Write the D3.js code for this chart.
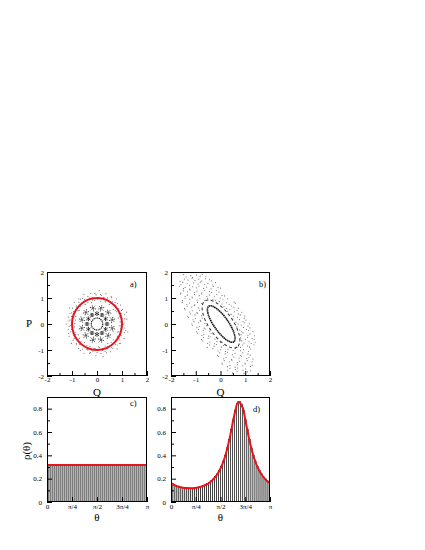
<!DOCTYPE html>
<html>
<head>
<meta charset="utf-8">
<script src="https://cdn.jsdelivr.net/npm/d3@7"></script>
<style>
  body { margin: 0; background: #fff; }
  text { font-family: "Liberation Serif", "Times New Roman", serif; }
</style>
</head>
<body>
<script>
// ---- data ----
const qpTicks = [-2, -1, 0, 1, 2];
const qpMinor = [-1.5, -0.5, 0.5, 1.5];
const piTicks = [0, 0.25, 0.5, 0.75, 1];          // theta in units of pi
const piLabels = ["0", "\u03c0/4", "\u03c0/2", "3\u03c0/4", "\u03c0"];
const rhoTicks = [0, 0.2, 0.4, 0.6, 0.8];
const rhoMinor = [0.1, 0.3, 0.5, 0.7];

// panel a: circular section
const ringA = [0.23];
const chainInDeg = [0, 30, 60, 90, 120, 150, 180, 210, 240, 270, 300, 330];
const chainOutDeg = [15, 45, 75, 105, 135, 165, 195, 225, 255, 285, 315, 345];
const chainR = [0.40, 0.63];
const fitCircleR = [1.0];
// [angle deg, r]
const seaA = [[2,1.08],[5,0.93],[9,1.21],[12,1.02],[15,0.88],[18,1.15],[21,1.27],[25,0.97],[28,1.11],[31,0.91],[34,1.05],[38,1.19],[41,0.86],[44,1.13],[47,0.99],[51,1.24],[54,1.06],[57,0.9],[60,1.17],[63,1.01],[67,1.09],[70,0.94],[73,1.22],[76,1.03],[80,0.87],[83,1.14],[86,1.28],[89,0.96],[92,1.12],[96,0.92],[99,1.04],[102,1.2],[105,0.85],[109,1.12],[112,1.0],[115,1.25],[118,1.07],[122,0.89],[125,1.16],[128,1.02],[131,1.1],[135,0.95],[138,1.23],[141,1.04],[144,0.88],[148,1.15],[151,1.26],[154,0.97],[157,1.1],[161,0.9],[164,1.06],[167,1.18],[170,0.87],[174,1.13],[177,0.99],[180,1.23],[183,1.07],[187,0.91],[190,1.17],[193,1.0],[196,1.09],[200,0.93],[203,1.21],[206,1.03],[209,0.86],[213,1.14],[216,1.27],[219,0.96],[222,1.11],[226,0.92],[229,1.05],[232,1.19],[235,0.87],[239,1.12],[242,0.98],[245,1.24],[248,1.06],[252,0.9],[255,1.16],[258,1.01],[261,1.08],[265,0.94],[268,1.22],[271,1.02],[274,0.88],[278,1.15],[281,1.28],[284,0.97],[287,1.11],[291,0.91],[294,1.04],[297,1.2],[300,0.86],[304,1.13],[307,0.99],[310,1.25],[313,1.07],[317,0.89],[320,1.17],[323,1.01],[326,1.1],[330,0.94],[333,1.22],[336,1.03],[339,0.87],[343,1.14],[346,1.27],[349,0.96],[352,1.12],[356,0.92],[359,1.05],
  [4,1.0],[10,1.13],[17,0.95],[23,1.05],[29,1.17],[36,0.9],[42,1.03],[49,1.1],[55,0.96],[62,1.2],[68,0.91],[75,1.06],[81,1.12],[88,1.0],[94,1.18],[101,0.94],[107,1.04],[114,0.9],[120,1.14],[127,1.21],[133,0.98],[140,1.08],[146,0.92],[153,1.05],[159,1.16],[166,0.95],[172,1.09],[179,0.89],[185,1.12],[192,1.03],[198,1.19],[205,0.94],[211,1.07],[218,0.9],[224,1.15],[231,1.0],[237,1.22],[244,0.92],[250,1.06],[257,1.13],[263,0.97],[270,1.1],[276,0.91],[283,1.04],[289,1.17],[296,0.95],[302,1.08],[309,0.9],[315,1.14],[322,1.2],[328,0.97],[335,1.06],[341,0.92],[348,1.16],[354,1.01]];

// panel b: tilted section
const ellCx = [0.03, 0.02];
const ellMajor = [0.85, 1.10];
const ellMinor = [0.29, 0.48];
const ellDeg = [-53.5, -53.5];
// [Q, P]
const seaB = [[-1.49,1.9],[-1.39,1.81],[-1.2,1.86],[-1.13,1.79],[-0.97,1.88],[-0.82,1.84],[-0.74,1.91],[-0.59,1.82],
  [-1.63,1.64],[-1.46,1.73],[-1.31,1.69],[-1.15,1.76],[-1.03,1.67],[-0.88,1.72],[-0.76,1.65],[-0.6,1.74],[-0.44,1.7],[-0.36,1.66],
  [-1.6,1.51],[-1.52,1.6],[-1.35,1.55],[-1.25,1.49],[-1.08,1.58],[-0.91,1.54],[-0.82,1.61],[-0.64,1.52],[-0.51,1.57],[-0.31,1.5],[-0.2,1.59],
  [-1.66,1.45],[-1.5,1.36],[-1.43,1.41],[-1.24,1.34],[-1.12,1.43],[-0.96,1.39],[-0.87,1.46],[-0.68,1.37],[-0.56,1.42],[-0.38,1.35],[-0.29,1.44],[-0.1,1.4],[0.0,1.38],
  [-1.6,1.19],[-1.5,1.28],[-1.33,1.24],[-1.23,1.31],[-1.04,1.22],[-0.95,1.27],[-0.75,1.2],[-0.64,1.29],[-0.45,1.25],[-0.36,1.21],[-0.17,1.3],[-0.06,1.23],
  [-1.62,1.15],[-1.43,1.06],[-1.34,1.11],[-1.15,1.04],[-1.05,1.13],[-0.86,1.09],[-0.77,1.16],[-0.55,1.07],[-0.45,1.12],[-0.25,1.05],[-0.15,1.14],[0.06,1.1],[0.16,1.08],
  [-1.53,0.9],[-1.43,0.99],[-1.24,0.95],[-1.14,1.01],[-0.95,0.92],[-0.83,0.97],[-0.63,0.9],[-0.52,0.99],[-0.31,0.95],[-0.21,0.91],[-0.01,1.0],[0.1,0.93],[0.29,0.97],
  [-1.55,0.83],[-1.36,0.76],[-1.25,0.81],[-1.04,0.74],[-0.93,0.83],[-0.77,0.79],[-0.05,0.86],[0.06,0.77],[0.25,0.82],[0.35,0.75],[0.55,0.84],[0.6,0.8],
  [-1.45,0.6],[-1.35,0.69],[-1.16,0.65],[-1.06,0.71],[-0.88,0.62],[0.14,0.67],[0.25,0.6],[0.44,0.69],[0.54,0.65],[0.72,0.61],
  [-1.43,0.55],[-1.24,0.46],[-1.14,0.51],[-0.95,0.44],[-0.85,0.53],[0.29,0.49],[0.38,0.56],[0.57,0.47],[0.67,0.52],[0.86,0.45],
  [-1.32,0.3],[-1.22,0.39],[-1.03,0.35],[-0.94,0.41],[-0.76,0.32],[0.43,0.37],[0.52,0.3],[0.72,0.39],[0.8,0.35],[0.98,0.31],
  [-1.3,0.25],[-1.11,0.16],[-1.02,0.21],[-0.82,0.14],[-0.74,0.23],[0.5,0.19],[0.69,0.26],[0.77,0.17],[0.96,0.22],[1.03,0.15],
  [-1.16,0.0],[-1.07,0.09],[-0.88,0.05],[-0.8,0.11],[-0.63,0.02],[0.62,0.07],[0.71,0.0],[0.91,0.09],[0.98,0.05],[1.16,0.01],
  [-1.13,-0.05],[-0.95,-0.14],[-0.86,-0.09],[-0.66,-0.16],[-0.56,-0.07],[0.66,-0.11],[0.84,-0.04],[0.93,-0.13],[1.11,-0.08],[1.19,-0.15],
  [-0.97,-0.3],[-0.89,-0.21],[-0.7,-0.25],[-0.62,-0.19],[-0.44,-0.28],[0.77,-0.23],[0.86,-0.3],[1.05,-0.21],[1.13,-0.25],[1.31,-0.29],
  [-0.93,-0.35],[-0.75,-0.44],[-0.67,-0.39],[-0.48,-0.46],[-0.38,-0.37],[0.83,-0.41],[0.91,-0.34],[1.11,-0.43],[1.19,-0.38],[1.37,-0.45],
  [-0.77,-0.6],[-0.69,-0.51],[-0.5,-0.55],[-0.42,-0.49],[-0.22,-0.58],[0.81,-0.53],[1.0,-0.6],[1.09,-0.51],[1.28,-0.55],[1.36,-0.59],
  [-0.71,-0.65],[-0.52,-0.74],[-0.43,-0.69],[-0.24,-0.76],[-0.14,-0.67],[0.0,-0.71],[0.86,-0.64],[0.95,-0.73],[1.15,-0.68],[1.24,-0.75],[1.4,-0.7],
  [-0.54,-0.9],[-0.45,-0.81],[-0.26,-0.85],[-0.16,-0.79],[0.04,-0.88],[0.12,-0.83],[0.81,-0.9],[0.89,-0.81],[1.1,-0.85],[1.18,-0.89],[1.35,-0.8],
  [-0.31,-0.95],[-0.1,-1.04],[0.0,-0.99],[0.2,-1.06],[0.3,-0.97],[0.51,-1.01],[0.6,-0.94],[0.81,-1.03],[0.92,-0.98],[1.13,-1.05],[1.22,-0.96],
  [-0.12,-1.2],[-0.03,-1.11],[0.19,-1.15],[0.28,-1.09],[0.49,-1.18],[0.59,-1.13],[0.8,-1.2],[0.9,-1.11],[1.11,-1.15],[1.2,-1.19],
  [-0.08,-1.25],[0.13,-1.34],[0.23,-1.29],[0.44,-1.36],[0.54,-1.27],[0.75,-1.31],[0.85,-1.24],[1.06,-1.33],[1.15,-1.28],[1.31,-1.35],
  [0.06,-1.5],[0.15,-1.41],[0.37,-1.45],[0.46,-1.39],[0.68,-1.48],[0.77,-1.43],[0.99,-1.5],[1.08,-1.41],[1.28,-1.45],
  [0.07,-1.55],[0.28,-1.64],[0.38,-1.59],[0.59,-1.66],[0.69,-1.57],[0.9,-1.61],[1.0,-1.54],[1.21,-1.63],[1.28,-1.58],
  [0.29,-1.8],[0.38,-1.71],[0.6,-1.75],[0.69,-1.69],[0.91,-1.78],[1.01,-1.73],[1.22,-1.8],
  [0.48,-1.88],[0.67,-1.83],[0.95,-1.9],[1.09,-1.84]];

// panel c: flat distribution (50 bins over 0..pi)
const cBins = [0.318,0.315,0.317,0.320,0.316,0.314,0.319,0.317,0.315,0.318,0.321,0.316,0.314,0.317,0.319,0.315,0.318,0.316,0.320,0.317,0.314,0.318,0.316,0.319,0.315,0.317,0.320,0.316,0.314,0.318,0.317,0.315,0.319,0.316,0.318,0.321,0.315,0.317,0.314,0.318,0.316,0.319,0.317,0.315,0.318,0.320,0.316,0.317,0.315,0.318];
const flatX = [0, 1];
const flatC = [0.318, 0.318];

// panel d: peaked distribution
const dBins = [0.157,0.146,0.140,0.132,0.129,0.123,0.121,0.120,0.117,0.119,0.118,0.120,0.122,0.123,0.129,0.132,0.140,0.146,0.157,0.167,0.182,0.197,0.218,0.240,0.271,0.305,0.350,0.400,0.465,0.536,0.621,0.704,0.785,0.840,0.863,0.840,0.785,0.704,0.621,0.537,0.463,0.402,0.348,0.307,0.269,0.242,0.216,0.199,0.180,0.169];
const fitX = [0,0.04,0.08,0.12,0.16,0.2,0.24,0.28,0.32,0.36,0.4,0.44,0.48,0.52,0.56,0.6,0.64,0.68,0.72,0.76,0.8,0.84,0.88,0.92,0.96,1];
const fitD = [0.162,0.143,0.131,0.123,0.119,0.118,0.120,0.126,0.136,0.151,0.174,0.207,0.255,0.326,0.431,0.577,0.746,0.857,0.816,0.662,0.499,0.374,0.287,0.229,0.189,0.162];

// ---- drawing ----
const svg = d3.select("body").append("svg")
  .attr("width", 425)
  .attr("height", 550);
svg.append("rect").attr("width", 425).attr("height", 550).attr("fill", "#fff");

let clipN = 0;
function makePanel(x0, x1, y0, y1, xd, yd) {
  const x = d3.scaleLinear().domain(xd).range([x0, x1]);
  const y = d3.scaleLinear().domain(yd).range([y1, y0]);
  const id = "clip" + (clipN++);
  svg.append("clipPath").attr("id", id)
    .append("rect").attr("x", x0).attr("y", y0).attr("width", x1 - x0).attr("height", y1 - y0);
  const g = svg.append("g").attr("clip-path", `url(#${id})`);
  return { x, y, g, x0, x1, y0, y1 };
}

function frame(p, xt, xm, xfmt, yt, ym, yfmt, xpad, ypad) {
  const ax = svg.append("g").attr("transform", `translate(0,${p.y1})`)
    .call(d3.axisBottom(p.x).tickValues(xt).tickSize(-5).tickPadding(xpad).tickFormat(xfmt));
  ax.select(".domain").remove();
  ax.attr("font-size", 7);
  if (xm) {
    const m = svg.append("g").attr("transform", `translate(0,${p.y1})`)
      .call(d3.axisBottom(p.x).tickValues(xm).tickSize(-3).tickFormat(""));
    m.select(".domain").remove();
  }
  const ay = svg.append("g").attr("transform", `translate(${p.x0},0)`)
    .call(d3.axisLeft(p.y).tickValues(yt).tickSize(-5).tickPadding(ypad).tickFormat(yfmt));
  ay.select(".domain").remove();
  ay.attr("font-size", 7);
  if (ym) {
    const m = svg.append("g").attr("transform", `translate(${p.x0},0)`)
      .call(d3.axisLeft(p.y).tickValues(ym).tickSize(-3).tickFormat(""));
    m.select(".domain").remove();
  }
  svg.append("rect")
    .attr("x", p.x0 + 0.5).attr("y", p.y0 + 0.5)
    .attr("width", p.x1 - p.x0 - 1).attr("height", p.y1 - p.y0 - 1)
    .attr("fill", "none").attr("stroke", "#000").attr("stroke-width", 1);
}

const numFmt = d => String(d);
const rad = Math.PI / 180;

// panel a
const pa = makePanel(47, 147, 272, 376, [-2, 2], [-2, 2]);
pa.g.selectAll("circle.sea").data(seaA).enter().append("circle")
  .attr("cx", d => pa.x(d[1] * Math.cos(d[0] * rad)))
  .attr("cy", d => pa.y(d[1] * Math.sin(d[0] * rad)))
  .attr("r", 0.55).attr("fill", "#666");

function stars(p, degs, r, len, color, w) {
  degs.forEach(a => {
    const cx = r * Math.cos(a * rad), cy = r * Math.sin(a * rad);
    [0, 60, 120].forEach(o => {
      const t = (a + o) * rad;
      p.g.append("line")
        .attr("x1", p.x(cx - len * Math.cos(t))).attr("y1", p.y(cy - len * Math.sin(t)))
        .attr("x2", p.x(cx + len * Math.cos(t))).attr("y2", p.y(cy + len * Math.sin(t)))
        .attr("stroke", color).attr("stroke-width", w).attr("stroke-dasharray", "1.2,0.5");
    });
  });
}
stars(pa, chainInDeg, chainR[0], 0.09, "#111", 1.0);
stars(pa, chainOutDeg, chainR[1], 0.13, "#333", 0.9);

pa.g.selectAll("ellipse.ring").data(ringA).enter().append("ellipse")
  .attr("cx", pa.x(0)).attr("cy", pa.y(0))
  .attr("rx", d => pa.x(d) - pa.x(0)).attr("ry", d => pa.y(0) - pa.y(d))
  .attr("fill", "none").attr("stroke", "#111").attr("stroke-width", 1.1).attr("stroke-dasharray", "1.2,0.6");

pa.g.selectAll("ellipse.fit").data(fitCircleR).enter().append("ellipse")
  .attr("cx", pa.x(0)).attr("cy", pa.y(0))
  .attr("rx", d => pa.x(d) - pa.x(0)).attr("ry", d => pa.y(0) - pa.y(d))
  .attr("fill", "none").attr("stroke", "#e8141c").attr("stroke-width", 2);

frame(pa, qpTicks, qpMinor, numFmt, qpTicks, qpMinor, numFmt, 1.5, 3);

// panel b
const pb = makePanel(171, 270, 272, 376, [-2, 2], [-2, 2]);
pb.g.selectAll("circle.sea").data(seaB).enter().append("circle")
  .attr("cx", d => pb.x(d[0])).attr("cy", d => pb.y(d[1]))
  .attr("r", 0.55).attr("fill", "#666");

const ellStyle = [
  { stroke: "#111", w: 1.6, dash: "1.5,0.5" },
  { stroke: "#333", w: 1.0, dash: "3,2.5" }
];
ellMajor.forEach((a, i) => {
  const t = ellDeg[i] * rad;
  const sx = pb.x(ellCx[i] + Math.cos(t)) - pb.x(ellCx[i]);
  const sy = pb.y(Math.sin(t)) - pb.y(0);
  const ang = Math.atan2(sy, sx) / rad;
  const k = pb.x(1) - pb.x(0);
  pb.g.append("ellipse")
    .attr("transform", `translate(${pb.x(ellCx[i])},${pb.y(0)}) rotate(${ang})`)
    .attr("rx", a * Math.hypot(sx, sy)).attr("ry", ellMinor[i] * k)
    .attr("fill", "none").attr("stroke", ellStyle[i].stroke)
    .attr("stroke-width", ellStyle[i].w).attr("stroke-dasharray", ellStyle[i].dash);
});

frame(pb, qpTicks, qpMinor, numFmt, qpTicks, qpMinor, numFmt, 1.5, 3);

// histogram panels
function histo(p, bins, lx, ly, color) {
  const n = bins.length;
  p.g.selectAll("rect.bar").data(bins).enter().append("rect")
    .attr("x", (d, i) => p.x(i / n))
    .attr("width", (d, i) => p.x((i + 1) / n) - p.x(i / n))
    .attr("y", d => p.y(d))
    .attr("height", d => p.y(0) - p.y(d))
    .attr("fill", "#fff").attr("stroke", "#000").attr("stroke-width", 0.6);
  const line = d3.line().x((d, i) => p.x(lx[i])).y(d => p.y(d)).curve(d3.curveCatmullRom.alpha(0.5));
  p.g.append("path").datum(ly).attr("d", line)
    .attr("fill", "none").attr("stroke", color).attr("stroke-width", 2);
}
const rhoFmt = d => d === 0 ? "0" : d3.format(".1f")(d);
const piFmt = (d, i) => piLabels[i];

const pc = makePanel(47, 147, 397, 502, [0, 1], [0, 0.9]);
histo(pc, cBins, flatX, flatC, "#e8141c");
frame(pc, piTicks, null, piFmt, rhoTicks, rhoMinor, rhoFmt, 2, 5);

const pd = makePanel(171, 270, 397, 502, [0, 1], [0, 0.9]);
histo(pd, dBins, fitX, fitD, "#e8141c");
frame(pd, piTicks, null, piFmt, rhoTicks, rhoMinor, rhoFmt, 2, 5);

// panel tags and axis titles
const tags = [["a)", 130, 286.5], ["b)", 259, 286.5], ["c)", 130, 406], ["d)", 253, 412]];
tags.forEach(t => svg.append("text").attr("x", t[1]).attr("y", t[2]).attr("font-size", 8.5).text(t[0]));

svg.append("text").attr("x", (pa.x0 + pa.x1) / 2).attr("y", 395.5).attr("text-anchor", "middle").attr("font-size", 11).text("Q");
svg.append("text").attr("x", (pb.x0 + pb.x1) / 2).attr("y", 395.5).attr("text-anchor", "middle").attr("font-size", 11).text("Q");
svg.append("text").attr("x", 29).attr("y", 327).attr("text-anchor", "middle").attr("font-size", 11).text("P");
svg.append("text").attr("x", (pc.x0 + pc.x1) / 2).attr("y", 521).attr("text-anchor", "middle").attr("font-size", 11).text("\u03b8");
svg.append("text").attr("x", (pd.x0 + pd.x1) / 2).attr("y", 521).attr("text-anchor", "middle").attr("font-size", 11).text("\u03b8");
svg.append("text").attr("transform", "translate(30,451) rotate(-90)")
  .attr("text-anchor", "middle").attr("font-size", 11).text("\u03c1(\u03b8)");
</script>
</body>
</html>
